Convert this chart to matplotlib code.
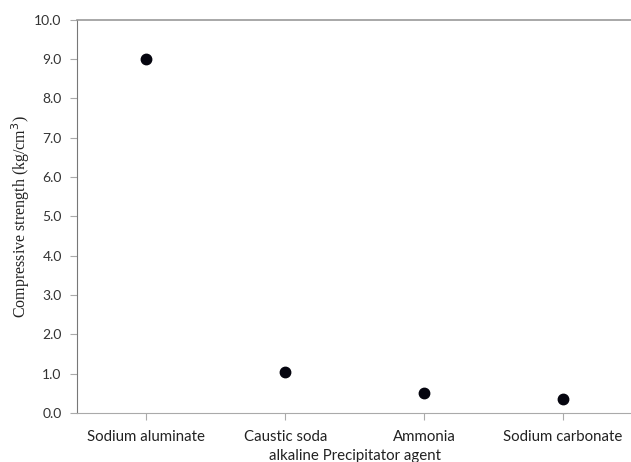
import matplotlib
matplotlib.use("Agg")
import matplotlib.pyplot as plt

categories = ["Sodium aluminate", "Caustic soda", "Ammonia", "Sodium carbonate"]
strength = [9.0, 1.04, 0.5, 0.36]
y_ticks = [0.0, 1.0, 2.0, 3.0, 4.0, 5.0, 6.0, 7.0, 8.0, 9.0, 10.0]

fig = plt.figure(figsize=(6.31, 4.62), dpi=100)
ax = fig.add_axes([0.122, 0.106, 0.88, 0.851])

x = list(range(len(categories)))
ax.plot(x, strength, linestyle="none", marker="o", markersize=7.5,
        color="#05050f", clip_on=False, zorder=3)

ax.set_xlim(-0.5, 3.5)
ax.set_ylim(0, 10)
ax.set_yticks(y_ticks)
ax.set_yticklabels([f"{v:.1f}" for v in y_ticks], family="Lato", fontsize=10, color="#333333")
ax.set_xticks(x)
ax.set_xticklabels(categories, family="Lato", fontsize=10.8, color="#222222")

ax.spines["right"].set_visible(False)
ax.spines["left"].set_color("#777777")
ax.spines["bottom"].set_color("#aaaaaa")
ax.spines["top"].set_color("#999999")
ax.spines["top"].set_linewidth(1.2)
ax.tick_params(axis="y", direction="out", length=5, color="#aaaaaa", pad=6)
ax.tick_params(axis="x", direction="out", length=5, color="#aaaaaa", pad=7)

ax.set_ylabel("Compressive strength (kg/cm$^{3}$)", family="Liberation Serif",
              fontsize=11.5, color="#222222", labelpad=2)
ax.set_xlabel("alkaline Precipitator agent", family="Lato", fontsize=10.8,
              color="#222222", labelpad=4)

fig.savefig("out.png", dpi=100)
